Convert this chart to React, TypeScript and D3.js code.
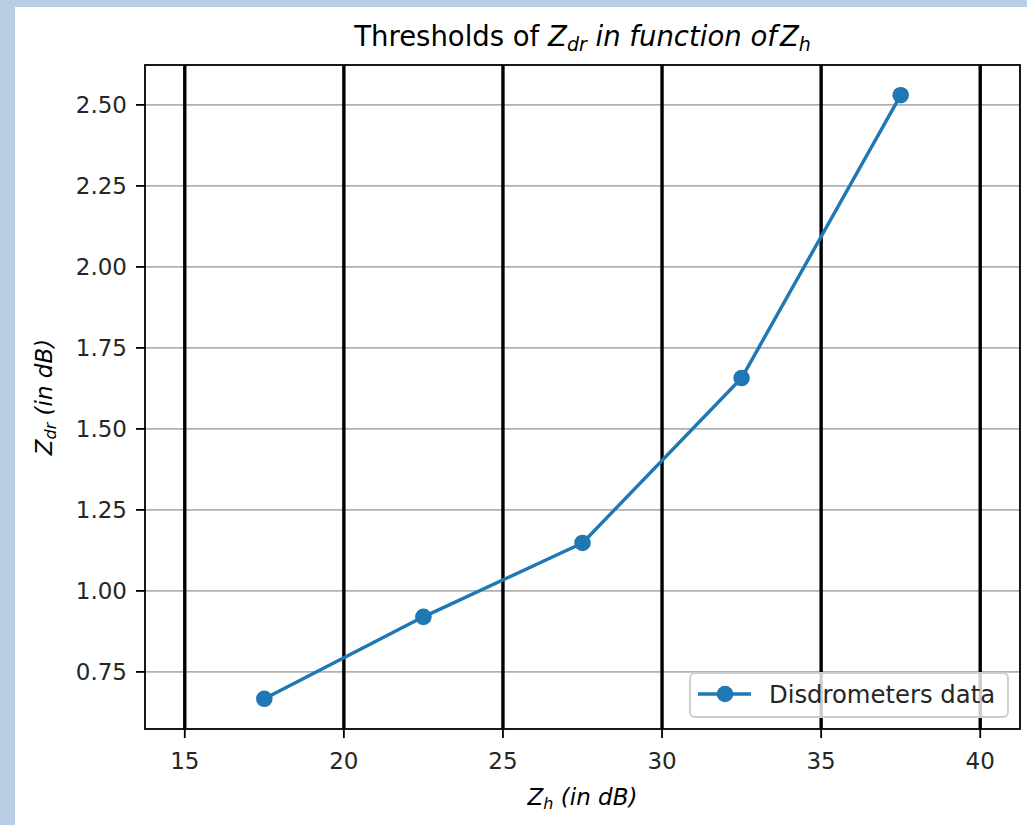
import React, { useEffect, useRef } from 'react';
import * as d3 from 'd3';

// Z_h bins (dB) and the Z_dr threshold read for each bin
const zh = [17.5, 22.5, 27.5, 32.5, 37.5];
const zdr = [0.667, 0.92, 1.148, 1.657, 2.53];
const xTicks = [15, 20, 25, 30, 35, 40];
const yTicks = [0.75, 1.0, 1.25, 1.5, 1.75, 2.0, 2.25, 2.5];
const seriesName = 'Disdrometers data';

const blue = '#1f77b4';
const font = '"DejaVu Sans", sans-serif';

export default function App() {
  const ref = useRef<SVGSVGElement>(null);
  const W = 1027, H = 825;

  useEffect(() => {
    if (!ref.current) return;
    document.body.style.margin = '0';
    const svg = d3.select(ref.current);
    svg.selectAll('*').remove();

    const m = { left: 145, right: 1020, top: 65, bottom: 729 };

    // matplotlib-style 5% padding (axvlines 15..40 count in x limits)
    const xExt = [d3.min(xTicks)!, d3.max(xTicks)!];
    const xPad = (xExt[1] - xExt[0]) * 0.05;
    const x = d3.scaleLinear().domain([xExt[0] - xPad, xExt[1] + xPad]).range([m.left, m.right]);
    const yExt = d3.extent(zdr) as [number, number];
    const yPad = (yExt[1] - yExt[0]) * 0.05;
    const y = d3.scaleLinear().domain([yExt[0] - yPad, yExt[1] + yPad]).range([m.bottom, m.top]);

    svg.append('rect').attr('width', W).attr('height', H).attr('fill', '#b8cce4');
    svg.append('rect').attr('x', 15).attr('y', 7).attr('width', W - 15).attr('height', H - 7).attr('fill', '#fff');

    // horizontal grid
    svg.append('g').selectAll('line').data(yTicks).enter().append('line')
      .attr('x1', m.left).attr('x2', m.right).attr('y1', d => y(d)).attr('y2', d => y(d))
      .attr('stroke', '#b0b0b0').attr('stroke-width', 1.8);

    // black vertical lines at the x ticks
    svg.append('g').selectAll('line').data(xTicks).enter().append('line')
      .attr('x1', d => x(d)).attr('x2', d => x(d)).attr('y1', m.top).attr('y2', m.bottom)
      .attr('stroke', '#000').attr('stroke-width', 3.4);

    const pts = zh.map((v, i) => [v, zdr[i]] as [number, number]);
    const line = d3.line<[number, number]>().x(d => x(d[0])).y(d => y(d[1]));
    svg.append('path').datum(pts).attr('d', line).attr('fill', 'none').attr('stroke', blue).attr('stroke-width', 3.4).attr('stroke-linejoin', 'round');
    svg.append('g').selectAll('circle').data(pts).enter().append('circle')
      .attr('cx', d => x(d[0])).attr('cy', d => y(d[1])).attr('r', 8.3).attr('fill', blue);

    // frame
    svg.append('rect').attr('x', m.left).attr('y', m.top).attr('width', m.right - m.left).attr('height', m.bottom - m.top)
      .attr('fill', 'none').attr('stroke', '#000').attr('stroke-width', 1.8);

    // ticks
    const gx = svg.append('g').attr('font-family', font).attr('font-size', 23).attr('fill', '#262626');
    xTicks.forEach(t => {
      gx.append('line').attr('x1', x(t)).attr('x2', x(t)).attr('y1', m.bottom).attr('y2', m.bottom + 9).attr('stroke', '#000').attr('stroke-width', 1.8);
      gx.append('text').attr('x', x(t)).attr('y', m.bottom + 40).attr('text-anchor', 'middle').text(String(t));
    });
    yTicks.forEach(t => {
      gx.append('line').attr('x1', m.left - 9).attr('x2', m.left).attr('y1', y(t)).attr('y2', y(t)).attr('stroke', '#000').attr('stroke-width', 1.8);
      gx.append('text').attr('x', m.left - 18).attr('y', y(t)).attr('dy', '0.36em').attr('text-anchor', 'end').text(d3.format('.2f')(t));
    });

    // title with math parts
    const title = svg.append('text').attr('x', (m.left + m.right) / 2).attr('y', 46).attr('text-anchor', 'middle')
      .attr('font-family', font).attr('font-size', 27.5).attr('fill', '#000');
    title.append('tspan').text('Thresholds of ');
    title.append('tspan').attr('font-style', 'italic').text('Z');
    title.append('tspan').attr('font-style', 'italic').attr('font-size', 19).attr('dy', 5).text('dr');
    title.append('tspan').attr('font-style', 'italic').attr('dy', -5).text(' in function of');
    title.append('tspan').attr('font-style', 'italic').attr('dx', 3).text('Z');
    title.append('tspan').attr('font-style', 'italic').attr('font-size', 19).attr('dy', 5).text('h');

    const xl = svg.append('text').attr('x', (m.left + m.right) / 2).attr('y', 805).attr('text-anchor', 'middle')
      .attr('font-family', font).attr('font-size', 23).attr('font-style', 'italic').attr('fill', '#000');
    xl.append('tspan').text('Z');
    xl.append('tspan').attr('font-size', 16).attr('dy', 4).text('h');
    xl.append('tspan').attr('dy', -4).text(' (in dB)');

    const yl = svg.append('text').attr('transform', `translate(52,${(m.top + m.bottom) / 2}) rotate(-90)`).attr('text-anchor', 'middle')
      .attr('font-family', font).attr('font-size', 23).attr('font-style', 'italic').attr('fill', '#000');
    yl.append('tspan').text('Z');
    yl.append('tspan').attr('font-size', 16).attr('dy', 4).text('dr');
    yl.append('tspan').attr('dy', -4).text(' (in dB)');

    // legend
    const lg = svg.append('g').attr('transform', 'translate(690,673)');
    lg.append('rect').attr('width', 318).attr('height', 44).attr('rx', 5)
      .attr('fill', '#fff').attr('fill-opacity', 0.8).attr('stroke', '#cccccc').attr('stroke-width', 1.8);
    lg.append('line').attr('x1', 8).attr('x2', 61).attr('y1', 21).attr('y2', 21).attr('stroke', blue).attr('stroke-width', 3.4);
    lg.append('circle').attr('cx', 35).attr('cy', 21).attr('r', 8.3).attr('fill', blue);
    lg.append('text').attr('x', 79).attr('y', 30).attr('font-family', font).attr('font-size', 24.3).attr('fill', '#262626').text(seriesName);
  }, []);

  return <svg ref={ref} width={W} height={H} style={{ display: 'block', position: 'absolute', left: 0, top: 0 }} />;
}
